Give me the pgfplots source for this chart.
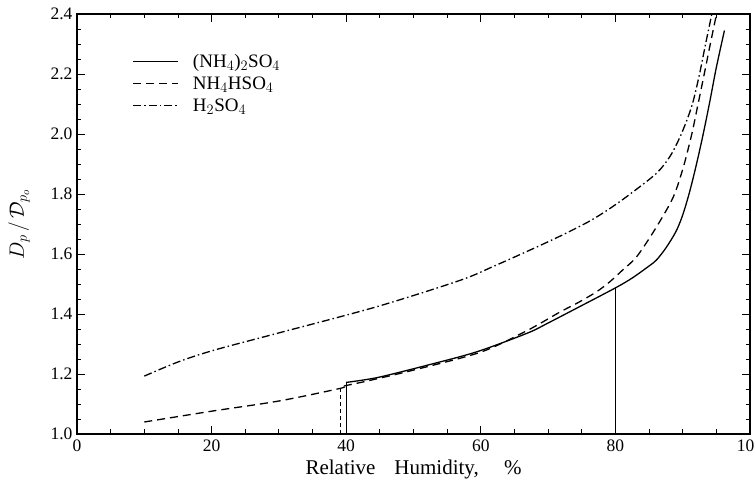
\documentclass[border=0pt]{standalone}
\usepackage{pgfplots}
\pgfplotsset{compat=1.18}
\usepackage{fontspec}
\setmainfont{Liberation Serif}
\begin{document}
\begin{tikzpicture}
\useasboundingbox (-77pt,-60pt) rectangle (677pt,434pt);
\begin{axis}[
  scale only axis, width=673pt, height=420pt,
  xmin=0, xmax=100, ymin=1.0, ymax=2.4,
  xtick={0,20,...,100}, ytick={1.0,1.2,...,2.4},
  minor x tick num=3, minor y tick num=3,
  tick align=inside,
  major tick length=8pt, minor tick length=4.5pt,
  axis line style={line width=1.1pt},
  every tick/.style={black, line width=0.9pt},
  /pgf/number format/assume math mode=true,
  y tick label style={/pgf/number format/fixed, /pgf/number format/fixed zerofill, /pgf/number format/precision=1, xshift=-1pt},
  tick label style={font=\fontsize{17.5}{19}\selectfont},
  xticklabel style={yshift=-2pt},
  xlabel={Relative\hspace{0.9em}Humidity,\hspace{1.2em}\%},
  xlabel style={font=\fontsize{21}{23}\selectfont, yshift=-2pt},
  ylabel={$D_p\,/\,\mathcal{D}_{p_o}$},
  ylabel style={font=\fontsize{21}{23}\selectfont, yshift=14pt},
  legend cell align=left,
  legend image code/.code={\draw[#1] (0pt,0pt) -- (45pt,0pt);},
  legend style={at={(axis description cs:0.078,0.915)}, anchor=north west,
    draw=none, fill=none, font=\fontsize{19}{21}\selectfont, row sep=4pt,
    /tikz/every odd column/.style={column sep=12pt}},
]
% (NH4)2SO4
\addplot[black, line width=1.3pt, smooth, tension=0.5] coordinates {
(40,1.172) (44.6,1.188) (52,1.229) (59.4,1.274) (66.9,1.336) (70,1.37)
(74.3,1.42) (80,1.487) (82.5,1.52) (85,1.56) (86.1,1.58) (87.5,1.62)
(89,1.675) (90,1.73) (91,1.805) (92,1.895) (93,1.995) (94,2.105)
(95,2.222) (96.2,2.345)};
\addlegendentry{(NH$_4$)$_2$SO$_4$}
% NH4HSO4
\addplot[black, line width=1.3pt, dash pattern=on 8pt off 5pt, smooth, tension=0.5] coordinates {
(10,1.04) (20,1.076) (30,1.11) (39.1,1.152) (39.3,1.158) (43,1.176)
(50,1.213) (60,1.273) (66.9,1.345) (71.8,1.407) (74.3,1.436) (77.2,1.474)
(79.2,1.508) (81,1.545) (83.2,1.592) (86.1,1.69) (88.6,1.79) (90.1,1.89)
(91.3,1.995) (92.1,2.08) (93.2,2.2) (94.1,2.3) (95.0,2.397)};
\addlegendentry{NH$_4$HSO$_4$}
% H2SO4
\addplot[black, line width=1.3pt, dash pattern=on 8pt off 3pt on 1.5pt off 3pt, smooth, tension=0.5] coordinates {
(10,1.193) (15,1.24) (20.3,1.279) (30,1.337) (44.5,1.424) (56.9,1.512) (62,1.56)
(67.5,1.615) (72,1.662) (76.2,1.71) (79.2,1.752) (82.2,1.80) (86.1,1.869) (88.1,1.925)
(89.6,1.99) (90.8,2.057) (91.6,2.113) (92.5,2.2) (93.4,2.3) (94.3,2.397)};
\addlegendentry{H$_2$SO$_4$}
% vertical deliquescence lines
\addplot[black, line width=1.3pt, forget plot] coordinates {(40,1.0) (40,1.172)};
\addplot[black, line width=1.0pt, forget plot] coordinates {(80,1.0) (80,1.487)};
\addplot[black, line width=1.2pt, dash pattern=on 4pt off 3pt, forget plot] coordinates {(39.1,1.0) (39.1,1.152)};
\end{axis}
\end{tikzpicture}
\end{document}
